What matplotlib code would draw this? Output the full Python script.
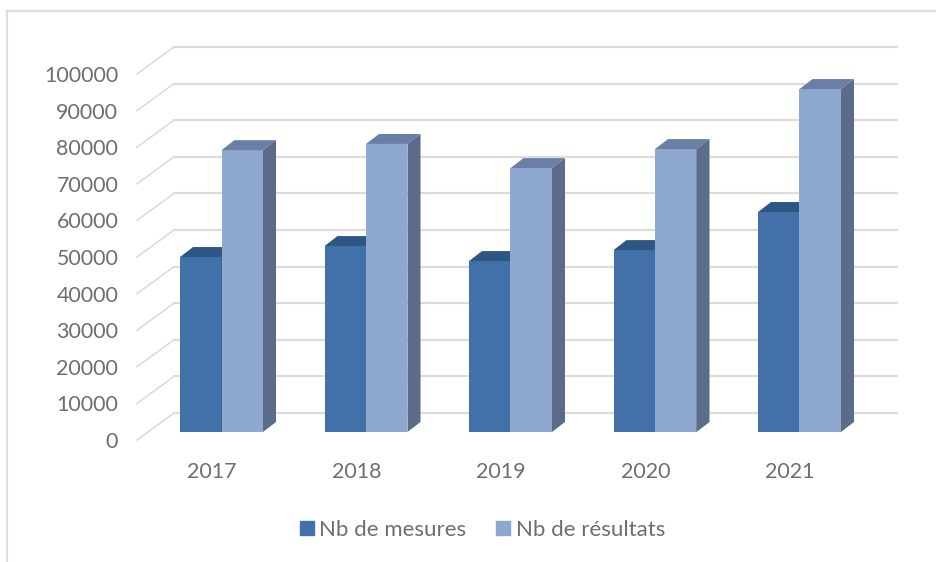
import matplotlib
matplotlib.use("Agg")
import matplotlib.pyplot as plt
from matplotlib.lines import Line2D
from matplotlib.patches import Patch
from matplotlib.transforms import ScaledTranslation

# ── Data ───────────────────────────────────────────────────────────────────
years = ["2017", "2018", "2019", "2020", "2021"]
nb_mesures = [47800, 50800, 46700, 49700, 60100]
nb_resultats = [77000, 78700, 72100, 77300, 93700]
y_ticks = list(range(0, 100001, 10000))

W, H = 936, 562
plt.rcParams.update({"font.family": "Lato", "font.size": 15.4, "text.color": "#6e6e6e"})

fig = plt.figure(figsize=(W / 100, H / 100), dpi=100)
# axes box: left 137 px, right 897 px, value 0 at 432 px, 100000 at 66 px
ax = fig.add_axes([137 / W, 1 - 432 / H, 760 / W, 366 / H])
step = 144.5
ax.set_xlim((137 - 212) / step, (897 - 212) / step)
ax.set_ylim(0, 100000)

px_x = 1 / step          # one pixel in category units
px_y = 100000 / 366      # one pixel in value units
wall_dx, wall_dy = 37 * px_x, 19 * px_y
bar_w = 41.5 * px_x
bar_left = -32 * px_x
dx, dy = 13 * px_x, 10 * px_y

# ── Grid on the back wall + slanted side lines ─────────────────────────────
grid_col = "#dcdcdc"
x0, x1 = ax.get_xlim()
for v in y_ticks:
    ax.plot([x0 + wall_dx, x1], [v + wall_dy, v + wall_dy],
            color=grid_col, lw=1.6, clip_on=False, zorder=1)
    ax.plot([x0, x0 + wall_dx], [v - 8 * px_y, v + wall_dy],
            color=grid_col, lw=1.2, clip_on=False, zorder=1)


def bar3d(i, left, val, front, top, side):
    xc = i + left
    ax.fill([xc, xc + bar_w, xc + bar_w, xc], [0, 0, val, val], color=front, lw=0, zorder=3 + i, clip_on=False)
    ax.fill([xc, xc + dx, xc + bar_w + dx, xc + bar_w], [val, val + dy, val + dy, val],
            color=top, lw=0, zorder=3 + i, clip_on=False)
    ax.fill([xc + bar_w, xc + bar_w + dx, xc + bar_w + dx, xc + bar_w], [0, dy, val + dy, val],
            color=side, lw=0, zorder=3 + i, clip_on=False)


dark = "#4171a8"
light = "#8ea8d0"
for i in range(len(years)):
    bar3d(i, bar_left, nb_mesures[i], dark, "#2d5685", "#2d5685")
    bar3d(i, bar_left + bar_w, nb_resultats[i], light, "#6b7fa6", "#5c6b8a")

# ── Axes text ──────────────────────────────────────────────────────────────
ax.set_xticks(range(len(years)), years)
ax.set_yticks(y_ticks, [str(v) for v in y_ticks])
ax.tick_params(axis="both", length=0, labelcolor="#6e6e6e")
ax.tick_params(axis="y", pad=13.5)
ax.tick_params(axis="x", pad=21.5)
for lab in ax.get_yticklabels():
    lab.set_transform(lab.get_transform() + ScaledTranslation(0, -8 / 100, fig.dpi_scale_trans))
for s in ax.spines.values():
    s.set_visible(False)
ax.patch.set_visible(False)

handles = [Patch(color=dark, label="Nb de mesures"), Patch(color=light, label="Nb de résultats")]
fig.legend(handles=handles, ncol=2, loc="center", bbox_to_anchor=(482.5 / W, 1 - 530 / H), frameon=False,
           handlelength=0.63, handleheight=0.6, handletextpad=0.25, columnspacing=1.35, fontsize=16,
           borderpad=0, borderaxespad=0)

# outer frame: only left and top are visible
fig.add_artist(Line2D([7 / W, 7 / W, 1], [0, 1 - 11 / H, 1 - 11 / H], color="#dedede", lw=1.6,
                      solid_joinstyle="miter"))

fig.savefig("out.png", dpi=100)
